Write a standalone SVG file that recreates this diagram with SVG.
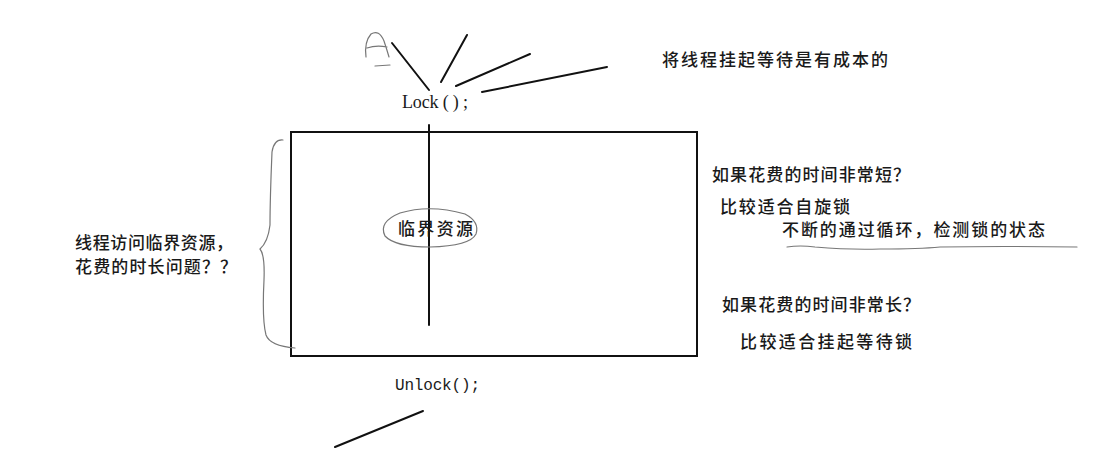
<svg xmlns="http://www.w3.org/2000/svg" width="1106" height="463" viewBox="0 0 1106 463">
<style>
.cn{font-family:"Noto Sans CJK SC","Noto Sans",sans-serif;font-size:17px;font-weight:500;fill:#1a1a1a}
.ln{stroke:#111;stroke-width:2;fill:none;stroke-linecap:round}
.hand{stroke:#777;stroke-width:1.2;fill:none;stroke-linecap:round}
</style>
<rect width="1106" height="463" fill="#fff"/>
<g id="connectors">
<line class="ln" x1="392" y1="43" x2="429" y2="90"/>
<line class="ln" x1="467" y1="35" x2="441" y2="82"/>
<line class="ln" x1="530" y1="54" x2="456" y2="86"/>
<line class="ln" x1="607" y1="67" x2="482" y2="92"/>
<line class="ln" x1="429" y1="125" x2="429" y2="325"/>
<line class="ln" x1="335" y1="447" x2="423" y2="411"/>
</g>
<g id="sketch-a">
<path class="hand" d="M366 57 Q364 42 371 34 Q379 29 384 41 Q387 50 389 57 M367 48 Q376 45 387 47 M375 66 L390 65"/>
</g>
<g id="lock">
<text x="402" y="108" font-family="Liberation Serif,serif" font-size="18" fill="#1a1a1a" textLength="66" lengthAdjust="spacing">Lock ( ) ;</text>
</g>
<g id="cost-note">
<text class="cn" x="662" y="66" textLength="226" lengthAdjust="spacing">将线程挂起等待是有成本的</text>
</g>
<g id="critical-box">
<rect x="291" y="132" width="406" height="224" fill="none" stroke="#111" stroke-width="2"/>
</g>
<g id="resource">
<path class="hand" d="M400 213 Q430 204 465 214 Q480 222 476 234 Q470 246 430 247 Q395 247 385 236 Q378 222 400 213 Z"/>
<text class="cn" x="398" y="235" textLength="75" lengthAdjust="spacing">临界资源</text>
</g>
<g id="brace">
<path class="hand" d="M283 140 Q274 139 272 152 Q270 200 270 225 Q268 242 260 249 Q265 255 264 280 Q262 320 266 335 Q270 346 295 348"/>
</g>
<g id="left-note">
<text class="cn" x="75" y="249" textLength="158" lengthAdjust="spacing">线程访问临界资源，</text>
<text class="cn" x="75" y="273" textLength="162" lengthAdjust="spacing">花费的时长问题？？</text>
</g>
<g id="short-note">
<text class="cn" x="712" y="181" textLength="198" lengthAdjust="spacing">如果花费的时间非常短？</text>
<text class="cn" x="720" y="213" textLength="130" lengthAdjust="spacing">比较适合自旋锁</text>
<text class="cn" x="782" y="236" textLength="263" lengthAdjust="spacing">不断的通过循环，检测锁的状态</text>
<path class="hand" d="M787 247 Q800 245 815 247 Q850 250 880 249 Q920 249 940 247 Q1000 246 1077 247"/>
</g>
<g id="long-note">
<text class="cn" x="722" y="311" textLength="198" lengthAdjust="spacing">如果花费的时间非常长？</text>
<text class="cn" x="740" y="348" textLength="172" lengthAdjust="spacing">比较适合挂起等待锁</text>
</g>
<g id="unlock">
<text x="395" y="390" font-family="Liberation Mono,monospace" font-size="16" fill="#1a1a1a" textLength="85" lengthAdjust="spacing">Unlock();</text>
</g>
</svg>
